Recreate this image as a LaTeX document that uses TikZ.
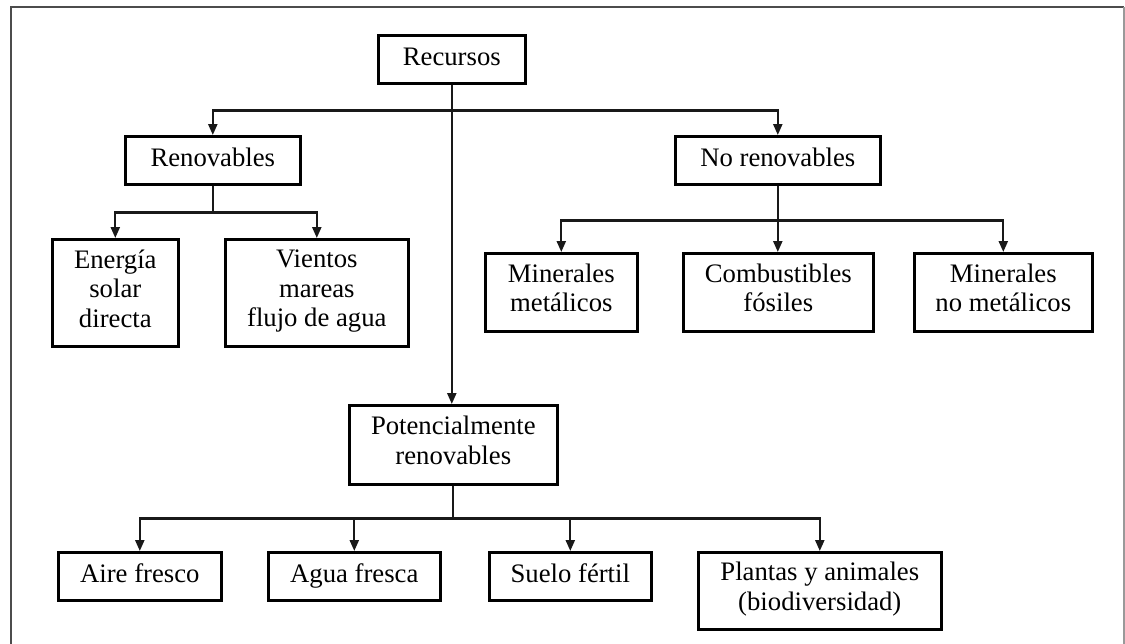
\documentclass[tikz,border=0pt]{standalone}
\usepackage{fontspec}
\setmainfont{Liberation Serif}
\usetikzlibrary{arrows.meta}
\begin{document}
\begin{tikzpicture}[x=1pt,y=-1pt,
  box/.style={draw=black, line width=2.6pt, anchor=north west, inner sep=0pt,
    align=center, font=\fontsize{26.7}{29.5}\selectfont,
    execute at begin node=\strut, execute at end node=\strut},
  conn/.style={draw=black!90, line width=2.3pt},
  arr/.style={conn, -{Triangle[length=11pt,width=9pt]}}]
\useasboundingbox (0,0) rectangle (1125,643);
\fill[white] (0,0) rectangle (1125,643);
% frame
\draw[black!70, line width=2.4pt] (11,650) -- (11,7) -- (1124,7);
\draw[black!40, line width=1.8pt] (1124,7) -- (1124,650);
% nodes
\node[box, minimum width=147pt, minimum height=48pt] (rec) at (377,34) {Recursos};
\node[box, minimum width=175pt, minimum height=48pt] (ren) at (124,135) {Renovables};
\node[box, minimum width=205pt, minimum height=48pt] (nor) at (674,135) {No renovables};
\node[box, minimum width=126pt, minimum height=107pt] (ene) at (51,238) {Energía\\solar\\directa};
\node[box, minimum width=183pt, minimum height=107pt] (vie) at (224,238) {Vientos\\mareas\\flujo de agua};
\node[box, minimum width=152pt, minimum height=78pt] (mm) at (484,252) {Minerales\\metálicos};
\node[box, minimum width=190pt, minimum height=78pt] (cf) at (682,252) {Combustibles\\fósiles};
\node[box, minimum width=178pt, minimum height=78pt] (mn) at (913,252) {Minerales\\no metálicos};
\node[box, minimum width=208pt, minimum height=79pt] (pot) at (348,404) {Potencialmente\\renovables};
\node[box, minimum width=163pt, minimum height=48pt] (aire) at (57,551) {Aire fresco};
\node[box, minimum width=172pt, minimum height=48pt] (agua) at (267,551) {Agua fresca};
\node[box, minimum width=162pt, minimum height=48pt] (suelo) at (488,551) {Suelo fértil};
\node[box, minimum width=243pt, minimum height=77pt] (pla) at (697,551) {Plantas y animales\\(biodiversidad)};
% connectors
\draw[arr] (rec.south) -- ++(0,26) -| (ren.north);
\draw[arr] (rec.south) -- ++(0,26) -| (nor.north);
\draw[arr] (rec.south) -- (rec.south |- pot.north);
\draw[arr] (ren.south) -- ++(0,27) -| (ene.north);
\draw[arr] (ren.south) -- ++(0,27) -| (vie.north);
\draw[arr] (nor.south) -- ++(0,35) -| (mm.north);
\draw[arr] (nor.south) -- (nor.south |- cf.north);
\draw[arr] (nor.south) -- ++(0,35) -| (mn.north);
\draw[arr] (pot.south) -- ++(0,33) -| (aire.north);
\draw[arr] (pot.south) -- ++(0,33) -| (agua.north);
\draw[arr] (pot.south) -- ++(0,33) -| (suelo.north);
\draw[arr] (pot.south) -- ++(0,33) -| (pla.north);
\end{tikzpicture}
\end{document}
